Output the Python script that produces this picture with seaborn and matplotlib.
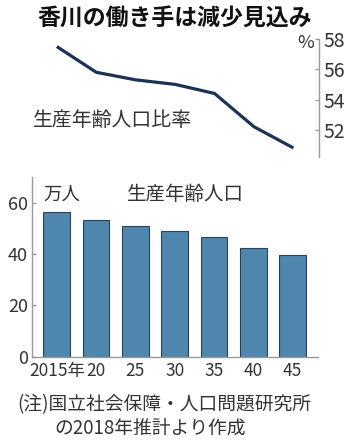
import matplotlib
matplotlib.use("Agg")
import matplotlib.pyplot as plt
import seaborn as sns
import pandas as pd

# ---- data ----
years = [2015, 2020, 2025, 2030, 2035, 2040, 2045]
year_labels = ["2015年", "20", "25", "30", "35", "40", "45"]
ratio_pct = [57.5, 55.8, 55.3, 55.0, 54.4, 52.2, 50.8]          # 生産年齢人口比率 (%)
workers_10k = [56.2, 53.2, 51.0, 49.0, 46.5, 42.5, 39.5]         # 生産年齢人口 (万人)
ratio_ticks = [52, 54, 56, 58]
pop_ticks = [0, 20, 40, 60]

title = "香川の働き手は減少見込み"
ratio_label = "生産年齢人口比率"
pop_label = "生産年齢人口"
unit_label = "万人"
note_line1 = "(注)国立社会保障・人口問題研究所"
note_line2 = "の2018年推計より作成"

sns.set_theme(style="white")
CJK = ["Noto Sans CJK JP", "DejaVu Sans"]
NUM = ["Noto Sans CJK JP", "DejaVu Sans"]
plt.rcParams["font.family"] = CJK

W, H = 350, 443
fig = plt.figure(figsize=(W / 100, H / 100), dpi=100)
fig.patch.set_facecolor("white")

def fx(px):
    return px / W

def fy(py):
    return 1 - py / H

x0, x1 = 32, 319
xlim = (2011.85, 2048.25)
spine_c = "#9a9a9a"
txt_c = "#333333"

# ---- top: line chart ----
ax1 = fig.add_axes([fx(x0), fy(157), fx(x1) - fx(x0), fy(39) - fy(157)])
df_line = pd.DataFrame({"year": years, "ratio": ratio_pct})
sns.lineplot(data=df_line, x="year", y="ratio", ax=ax1, color="#1b3156",
             linewidth=2.3, solid_capstyle="butt")
ax1.set_xlim(*xlim)
ax1.set_ylim(50.2, 58.0)
for s in ["top", "left", "bottom"]:
    ax1.spines[s].set_visible(False)
ax1.spines["right"].set_color(spine_c)
ax1.spines["right"].set_linewidth(1.0)
ax1.yaxis.tick_right()
ax1.set_yticks(ratio_ticks)
ax1.set_yticklabels([str(t) for t in ratio_ticks])
ax1.tick_params(axis="y", direction="in", length=3, width=1.0, color=spine_c,
                pad=3, labelsize=14, labelcolor=txt_c)
for lab in ax1.get_yticklabels():
    lab.set_family(NUM)
ax1.set_xticks([])
ax1.set_xlabel("")
ax1.set_ylabel("")
ax1.patch.set_alpha(0)

# ---- bottom: bar chart ----
ax2 = fig.add_axes([fx(x0), fy(356.7), fx(318) - fx(x0), fy(177) - fy(356.7)])
df_bar = pd.DataFrame({"year": years, "workers": workers_10k})
sns.barplot(data=df_bar, x="year", y="workers", ax=ax2, native_scale=True,
            width=0.68, color="#4f86ae", saturation=1,
            edgecolor="#2a4356", linewidth=0.8)
ax2.set_xlim(*xlim)
ax2.set_ylim(0, 70)
for s in ["top", "right"]:
    ax2.spines[s].set_visible(False)
for s in ["left", "bottom"]:
    ax2.spines[s].set_color(spine_c)
    ax2.spines[s].set_linewidth(1.0)
ax2.set_yticks(pop_ticks)
ax2.set_yticklabels([str(t) for t in pop_ticks])
ax2.set_xticks(years)
ax2.set_xticklabels(year_labels)
ax2.tick_params(axis="y", direction="in", length=3, width=1.0, color=spine_c,
                pad=3, labelsize=13, labelcolor=txt_c, left=True)
ax2.tick_params(axis="x", length=0, pad=4, labelsize=12.5, labelcolor=txt_c)
for lab in ax2.get_yticklabels() + ax2.get_xticklabels():
    lab.set_family(NUM)
ax2.set_xlabel("")
ax2.set_ylabel("")

# ---- texts ----
fig.text(0.5, fy(19), title, ha="center", va="center", fontsize=16.5,
         fontweight="bold", color="#111111", family=CJK)
fig.text(fx(297), fy(43), "%", ha="left", va="center", fontsize=13,
         color=txt_c, family=NUM)
fig.text(fx(33), fy(120), ratio_label, ha="left", va="center", fontsize=14.3,
         color=txt_c, family=CJK)
fig.text(fx(43), fy(195), unit_label, ha="left", va="center", fontsize=13.3,
         color=txt_c, family=CJK)
fig.text(fx(127), fy(195), pop_label, ha="left", va="center", fontsize=14,
         color=txt_c, family=CJK)
fig.text(fx(17), fy(405), note_line1, ha="left", va="center", fontsize=13.5,
         color=txt_c, family=CJK)
fig.text(fx(54), fy(428), note_line2, ha="left", va="center", fontsize=13.5,
         color=txt_c, family=CJK)

fig.savefig("out.png", dpi=100, facecolor="white")
